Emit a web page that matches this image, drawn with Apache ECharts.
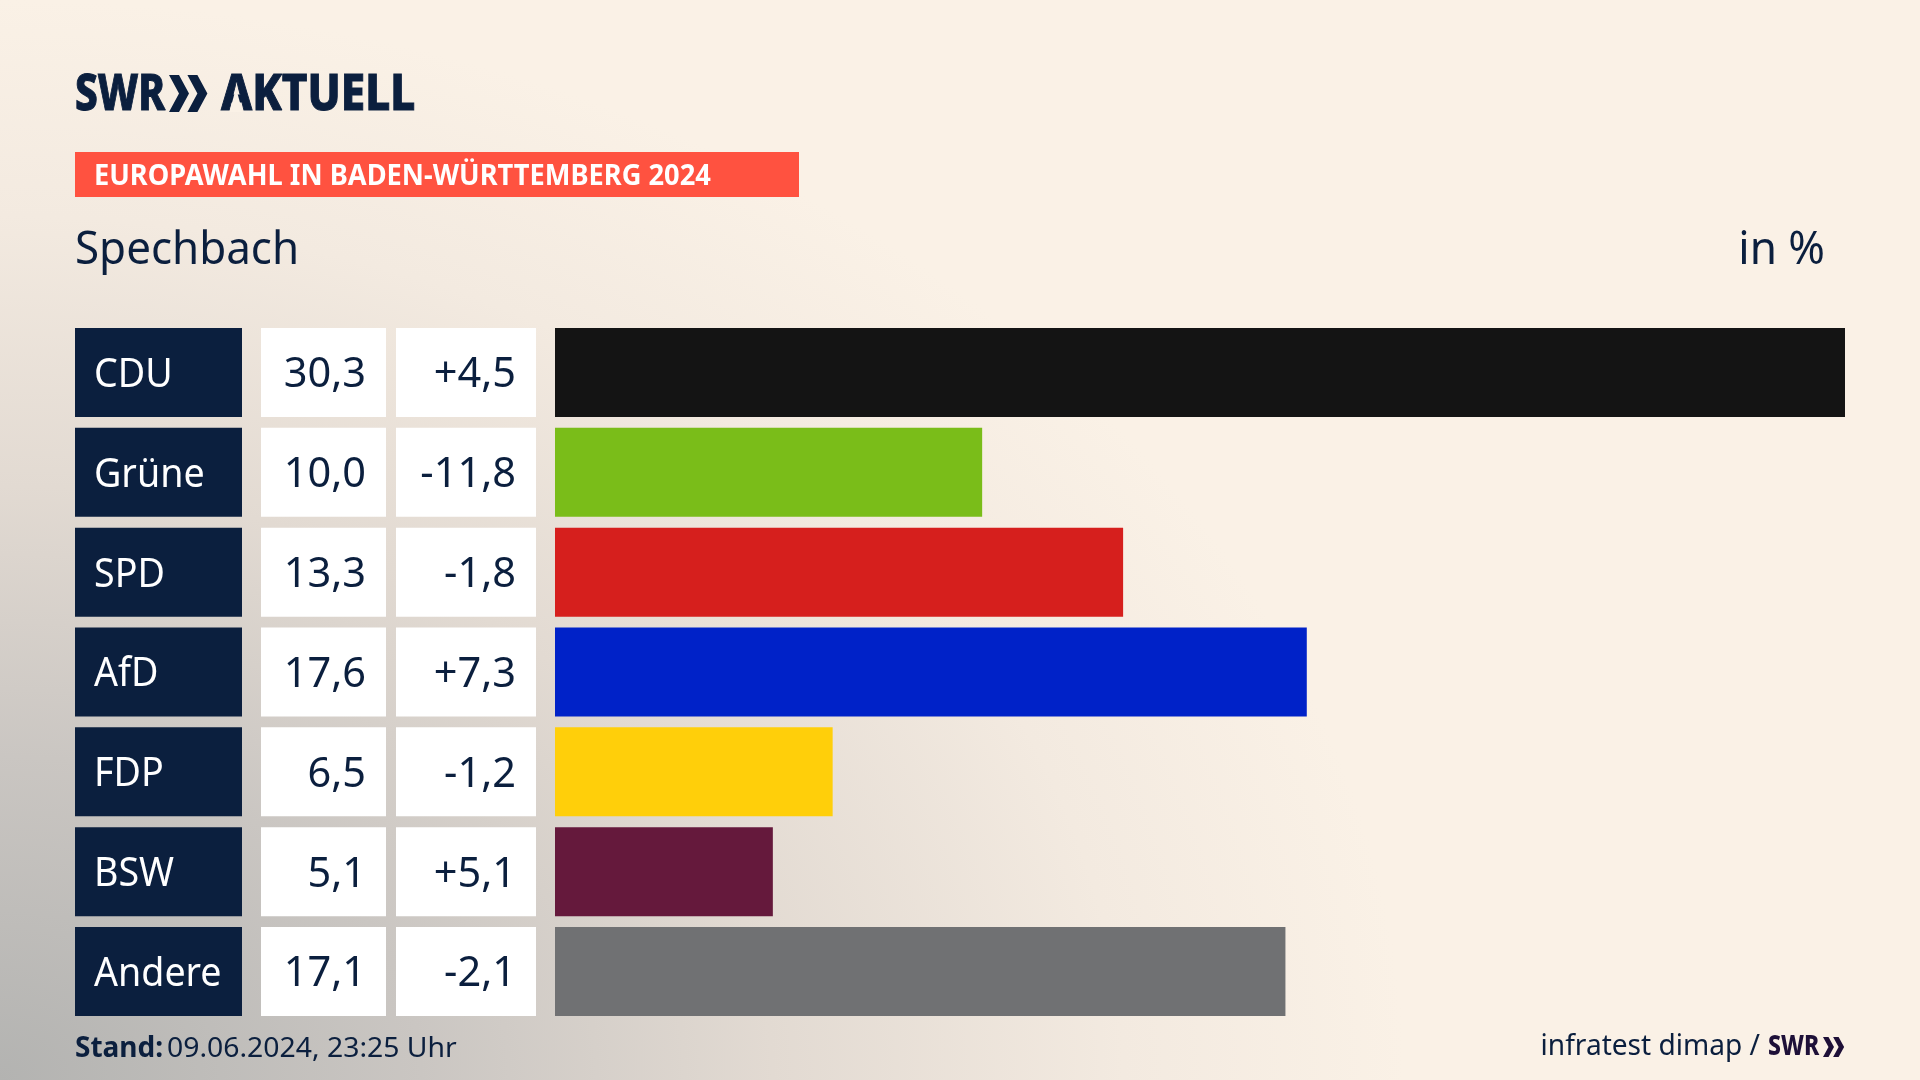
<!DOCTYPE html>
<html>
<head>
<meta charset="utf-8">
<title>Europawahl Spechbach</title>
<style>
html,body{margin:0;padding:0;background:#faf1e6}
#chart{width:1920px;height:1080px}
</style>
<script src="https://cdn.jsdelivr.net/npm/echarts@6/dist/echarts.min.js"></script>
</head>
<body>
<div id="chart"></div>
<script>
const parties = ['CDU', 'Grüne', 'SPD', 'AfD', 'FDP', 'BSW', 'Andere'];
const shares = [30.3, 10.0, 13.3, 17.6, 6.5, 5.1, 17.1];
const changes = [4.5, -11.8, -1.8, 7.3, -1.2, 5.1, -2.1];
const barColors = ['#141414', '#7abd19', '#d61f1d', '#0022c8', '#ffcf0a', '#65193c', '#707173'];

const NAVY = '#0b1f3e';
const BG = '#faf1e6';
const FONT = '"Noto Sans", sans-serif';
const ROW_TOP = 322.5, ROWS_H = 699, BAR_H = 89;

function fmt(v) { return v.toFixed(1).replace('.', ','); }
function fmtChange(v) { return (v > 0 ? '+' : '') + fmt(v); }

// one table column: a rectangle per row with its text inside
function cellSeries(idx, fill, color, data, align, pad, size, sx) {
	return {
		type: 'custom',
		xAxisIndex: idx,
		yAxisIndex: idx,
		silent: true,
		data: data,
		renderItem: function (params, api) {
			const cs = params.coordSys;
			const cy = api.coord([0, api.value(1)])[1];
			const text = data[params.dataIndex][2];
			return {
				type: 'group',
				children: [{
					type: 'rect',
					shape: { x: cs.x, y: cy - BAR_H / 2, width: cs.width, height: BAR_H },
					style: { fill: fill }
				}, {
					type: 'text',
					x: align === 'left' ? cs.x + pad : cs.x + cs.width - pad,
					y: cy + 3,
					scaleX: sx,
					style: {
						text: text,
						font: '400 ' + size + 'px ' + FONT,
						fill: color,
						textAlign: align,
						textVerticalAlign: 'middle'
					}
				}]
			};
		}
	};
}

function txt(x, y, text, font, fill, sx, align, stroke) {
	return {
		type: 'text', x: x, y: y, scaleX: sx || 1, silent: true,
		style: {
			text: text, font: font, fill: fill, textAlign: align || 'left', textVerticalAlign: 'middle',
			stroke: stroke ? fill : null, lineWidth: stroke || 0
		}
	};
}

function chevrons(x, y, w, h, fill) {
	// the two SWR arrows, w is the width of one arrow
	const step = w * 0.92;
	return [0, 1].map(function (i) {
		const x0 = x + i * step;
		return {
			type: 'polygon', silent: true,
			shape: { points: [[x0, y], [x0 + w * 0.5, y], [x0 + w, y + h / 2], [x0 + w * 0.5, y + h], [x0, y + h], [x0 + w * 0.5, y + h / 2]] },
			style: { fill: fill }
		};
	});
}

const grids = [
	{ left: 75, width: 167 },
	{ left: 261, width: 125 },
	{ left: 396, width: 140 },
	{ left: 555, width: 1290 }
].map(function (g) {
	return { left: g.left, width: g.width, top: ROW_TOP, height: ROWS_H, containLabel: false };
});

const xAxes = grids.map(function (g, i) {
	return { type: 'value', gridIndex: i, min: 0, max: i === 3 ? 30.2 : 1, show: false };
});
const yAxes = grids.map(function (g, i) {
	return { type: 'category', gridIndex: i, data: parties, inverse: true, show: false };
});

const chart = echarts.init(document.getElementById('chart'), null, { width: 1920, height: 1080 });

chart.setOption({
	animation: false,
	backgroundColor: BG,
	grid: grids,
	xAxis: xAxes,
	yAxis: yAxes,
	series: [
		cellSeries(0, NAVY, '#ffffff', parties.map(function (p) { return [0, p, p]; }), 'left', 19, 40, 0.94),
		cellSeries(1, '#ffffff', NAVY, shares.map(function (v, i) { return [0, parties[i], fmt(v)]; }), 'right', 20, 41.5, 1),
		cellSeries(2, '#ffffff', NAVY, changes.map(function (v, i) { return [0, parties[i], fmtChange(v)]; }), 'right', 20, 41.5, 1),
		{
			type: 'bar',
			xAxisIndex: 3,
			yAxisIndex: 3,
			barWidth: BAR_H,
			silent: true,
			data: shares.map(function (v, i) {
				return { value: v, itemStyle: { color: barColors[i] } };
			})
		}
	],
	graphic: [
		{
			// stretched sideways so the grey corner runs further along the bottom
			type: 'rect', z: -10, silent: true,
			scaleX: 1.3, originX: 0, originY: 1080,
			shape: { x: 0, y: 0, width: 1920, height: 1080 },
			style: {
				fill: new echarts.graphic.RadialGradient(0, 1, 1.0, [
					{ offset: 0, color: '#b3b3b1' },
					{ offset: 0.3, color: '#cac6c2' },
					{ offset: 0.55, color: '#e2dad2' },
					{ offset: 0.8, color: '#f3eae0' },
					{ offset: 1, color: BG }
				])
			}
		},
		txt(75, 96, 'SWR', '800 50px ' + FONT, NAVY, 0.81, 'left', 1),
		txt(221, 96, 'AKTUELL', '800 50px ' + FONT, NAVY, 0.88, 'left', 1),
		// the logo's A has no crossbar
		{
			type: 'polygon', silent: true,
			shape: { points: [[236, 88], [229.5, 112], [242.5, 112]] },
			style: { fill: BG }
		}
	].concat(chevrons(169, 75, 20, 37, NAVY)).concat([
		{
			type: 'rect', silent: true,
			shape: { x: 75, y: 152, width: 724, height: 45 },
			style: { fill: '#ff5240' }
		},
		txt(94, 177, 'EUROPAWAHL IN BADEN-WÜRTTEMBERG 2024', '700 28px ' + FONT, '#ffffff', 0.973),
		txt(75, 251, 'Spechbach', '400 46px ' + FONT, NAVY, 0.955),
		txt(1825, 251, 'in %', '400 45px ' + FONT, NAVY, 0.98, 'right'),
		txt(75, 1049, 'Stand:', '700 28px ' + FONT, NAVY, 1),
		txt(167, 1049, '09.06.2024, 23:25 Uhr', '400 28px ' + FONT, NAVY, 1.013),
		txt(1760, 1047, 'infratest dimap /', '400 28.5px ' + FONT, NAVY, 0.985, 'right'),
		txt(1768, 1047, 'SWR', '800 28px ' + FONT, '#1e1038', 0.82)
	]).concat(chevrons(1823, 1037, 11, 20, '#1e1038'))
});
</script>
</body>
</html>
